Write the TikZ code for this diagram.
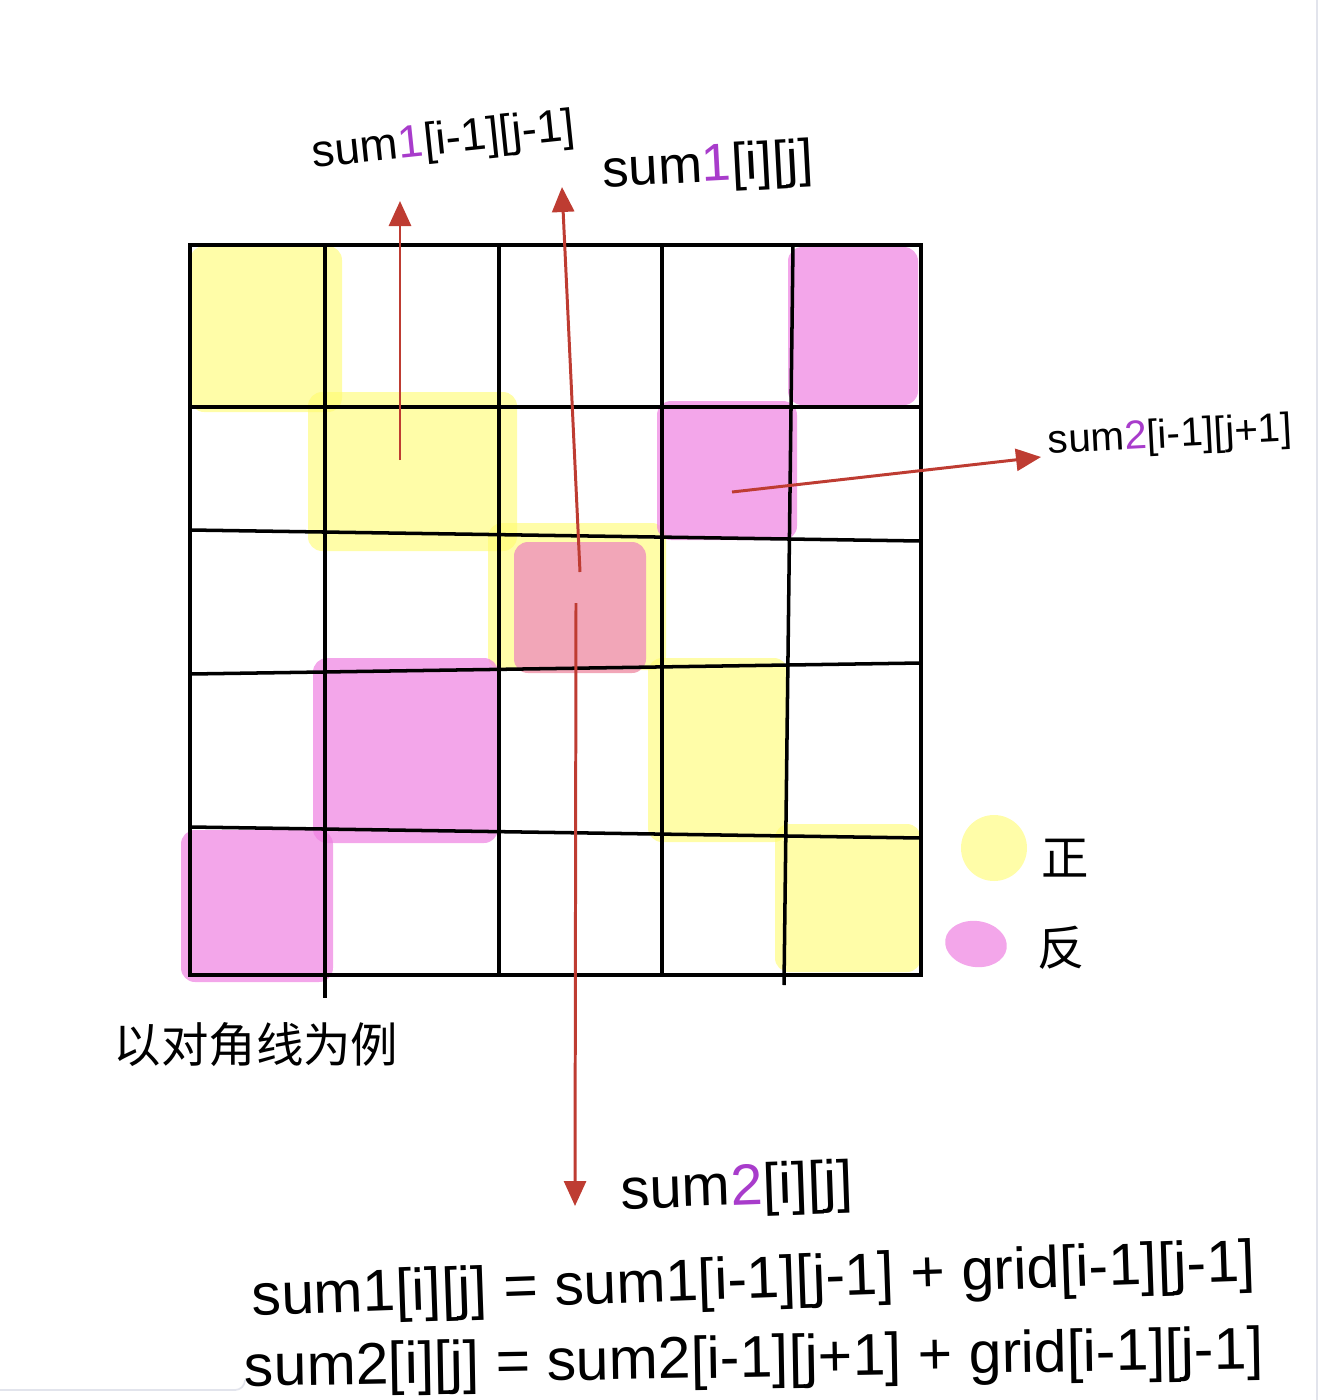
\documentclass[tikz,border=0pt]{standalone}
\usepackage{fontspec}
\setmainfont{Liberation Sans}
\newfontfamily\cjk{Noto Sans CJK SC}
\usetikzlibrary{arrows.meta}
\definecolor{hlYellow}{RGB}{255,251,110}
\definecolor{hlPink}{RGB}{238,128,225}
\definecolor{hlRed}{RGB}{242,166,184}
\definecolor{arrRed}{RGB}{190,60,50}
\definecolor{numPurple}{RGB}{168,60,203}
\definecolor{edgeGray}{RGB}{226,228,236}
\tikzset{
	cellY/.style={fill=hlYellow, fill opacity=0.6, rounded corners=8pt},
	cellP/.style={fill=hlPink, fill opacity=0.7, rounded corners=8pt},
	cellR/.style={fill=hlRed, rounded corners=8pt},
	gridln/.style={line width=2pt, black},
	arr/.style={line width=1.7pt, arrRed, -{Triangle[length=0.5cm, width=0.44cm]}},
	lbl/.style={inner sep=0pt, font={\fontsize{30}{36}\selectfont}},
	eqn/.style={inner sep=0pt, font={\fontsize{33.5}{40}\selectfont}},
	cn/.style={inner sep=0pt, font={\cjk\fontsize{27}{32}\selectfont}},
}
\newcommand{\pn}[1]{\textcolor{numPurple}{#1}}

\begin{document}
\begin{tikzpicture}[x=0.02cm, y=-0.02cm]
\useasboundingbox (0,0) rectangle (1319,1400);
% page edge
\draw[edgeGray, line width=1pt] (1317,0) -- (1317,1400);
\draw[edgeGray, line width=1pt] (0,1390) -- (235,1390) arc (90:0:10);

% highlighted cells
\fill[cellY] (190,246) rectangle (342,412);
\fill[cellY] (308,392) rectangle (517,551);
\fill[cellY] (488,523) rectangle (666,670);
\fill[cellY] (648,658) rectangle (788,842);
\fill[cellY] (775,824) rectangle (921,972);
\fill[cellP] (788,247) rectangle (918,405);
\fill[cellP] (657,401) rectangle (797,540);
\fill[cellP] (313,658) rectangle (498,843);
\fill[cellP] (181,830) rectangle (333,982);
\fill[cellR] (514,542) rectangle (646,673);

% grid
\draw[gridln] (190,245) rectangle (921,975);
\draw[gridln] (325,245) -- (325,998);
\draw[gridln] (499,245) -- (499,975);
\draw[gridln] (662,245) -- (662,975);
\draw[gridln] (793,245) -- (784,985);
\draw[gridln] (190,407) -- (921,407);
\draw[gridln] (190,530) -- (921,541);
\draw[gridln] (190,674) -- (921,663);
\draw[gridln] (190,827) -- (921,838);

% arrows
\coordinate (srcA) at (400,460); \coordinate (tipA) at (400,201);
\coordinate (srcB) at (580,572); \coordinate (tipB) at (562,187);
\coordinate (srcC) at (576,603); \coordinate (tipC) at (575,1206);
\coordinate (srcD) at (732,492); \coordinate (tipD) at (1041,457);
\draw[arr] (srcA) -- (tipA);
\draw[arr] (srcB) -- (tipB);
\draw[arr] (srcC) -- (tipC);
\draw[arr] (srcD) -- (tipD);

% labels
\node[lbl, rotate=6, font={\fontsize{26}{32}\selectfont}] (lblA) at (444,142) {sum\pn{1}[i-1][j-1]};
\node[lbl, rotate=3] (lblB) at (708,168) {sum\pn{1}[i][j]};
\node[lbl, rotate=3, font={\fontsize{23}{28}\selectfont}] (lblC) at (1170,437) {sum\pn{2}[i-1][j+1]};
\node[lbl, rotate=2, font={\fontsize{33}{40}\selectfont}] (lblD) at (737,1190) {sum\pn{2}[i][j]};
\node[eqn, rotate=2] (eqA) at (754,1283) {sum1[i][j] = sum1[i-1][j-1] + grid[i-1][j-1]};
\node[eqn, rotate=1] (eqB) at (754,1362) {sum2[i][j] = sum2[i-1][j+1] + grid[i-1][j-1]};
\node[cn] (note) at (256,1045) {以对角线为例};

% legend
\fill[hlYellow!60!white] (994,848) circle (33);
\fill[hlPink!70!white, rotate around={-8:(976,944)}] (976,944) ellipse (31 and 23);
\node[cn] (legZ) at (1065,858) {正};
\node[cn] (legF) at (1061,948) {反};
\end{tikzpicture}
\end{document}
